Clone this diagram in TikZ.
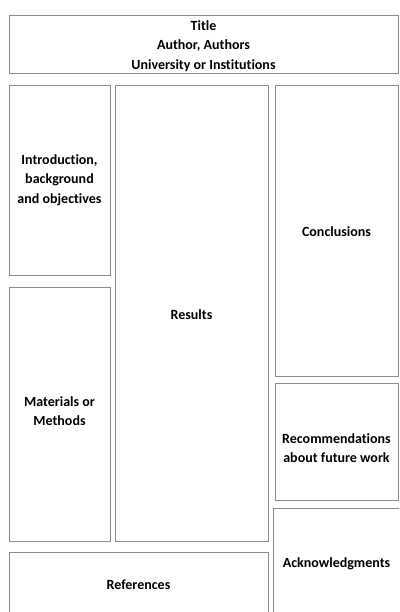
\documentclass[tikz,border=0pt]{standalone}
\usepackage{fontspec}
\setmainfont[Ligatures=NoCommon]{Carlito}
\begin{document}
\begin{tikzpicture}[x=1pt,y=-1pt,
  panel/.style={draw=gray!90, line width=1pt, fill=white},
  lbl/.style={font=\bfseries\fontsize{14}{19.5}\selectfont, align=center, text=black}]
\useasboundingbox (0,0) rectangle (399,612);
\clip (0,0) rectangle (399,612);
\fill[white] (0,0) rectangle (399,612);
% panels
\draw[panel] (9,16) rectangle (398,74);
\draw[panel] (9,86) rectangle (110,275);
\draw[panel] (9,287) rectangle (110,541);
\draw[panel] (115,86) rectangle (268,541);
\draw[panel] (275,86) rectangle (398,376);
\draw[panel] (275,383) rectangle (398,500);
\draw[panel] (273,508) rectangle (402,620);
\draw[panel] (9,552) rectangle (268,620);
% labels
\node[lbl] (title) at (203.5,46) {Title\\Author, Authors\\University or Institutions};
\node[lbl] (intro) at (59.5,180) {Introduction,\\background\\and objectives};
\node[lbl] (methods) at (59.5,411) {Materials or\\Methods};
\node[lbl] (results) at (191.5,315) {Results};
\node[lbl] (concl) at (336.5,232) {Conclusions};
\node[lbl] (recom) at (336.5,448) {Recommendations\\about future work};
\node[lbl] (ack) at (336.5,564) {Acknowledgments};
\node[lbl] (refs) at (138.5,585) {References};
\end{tikzpicture}
\end{document}
